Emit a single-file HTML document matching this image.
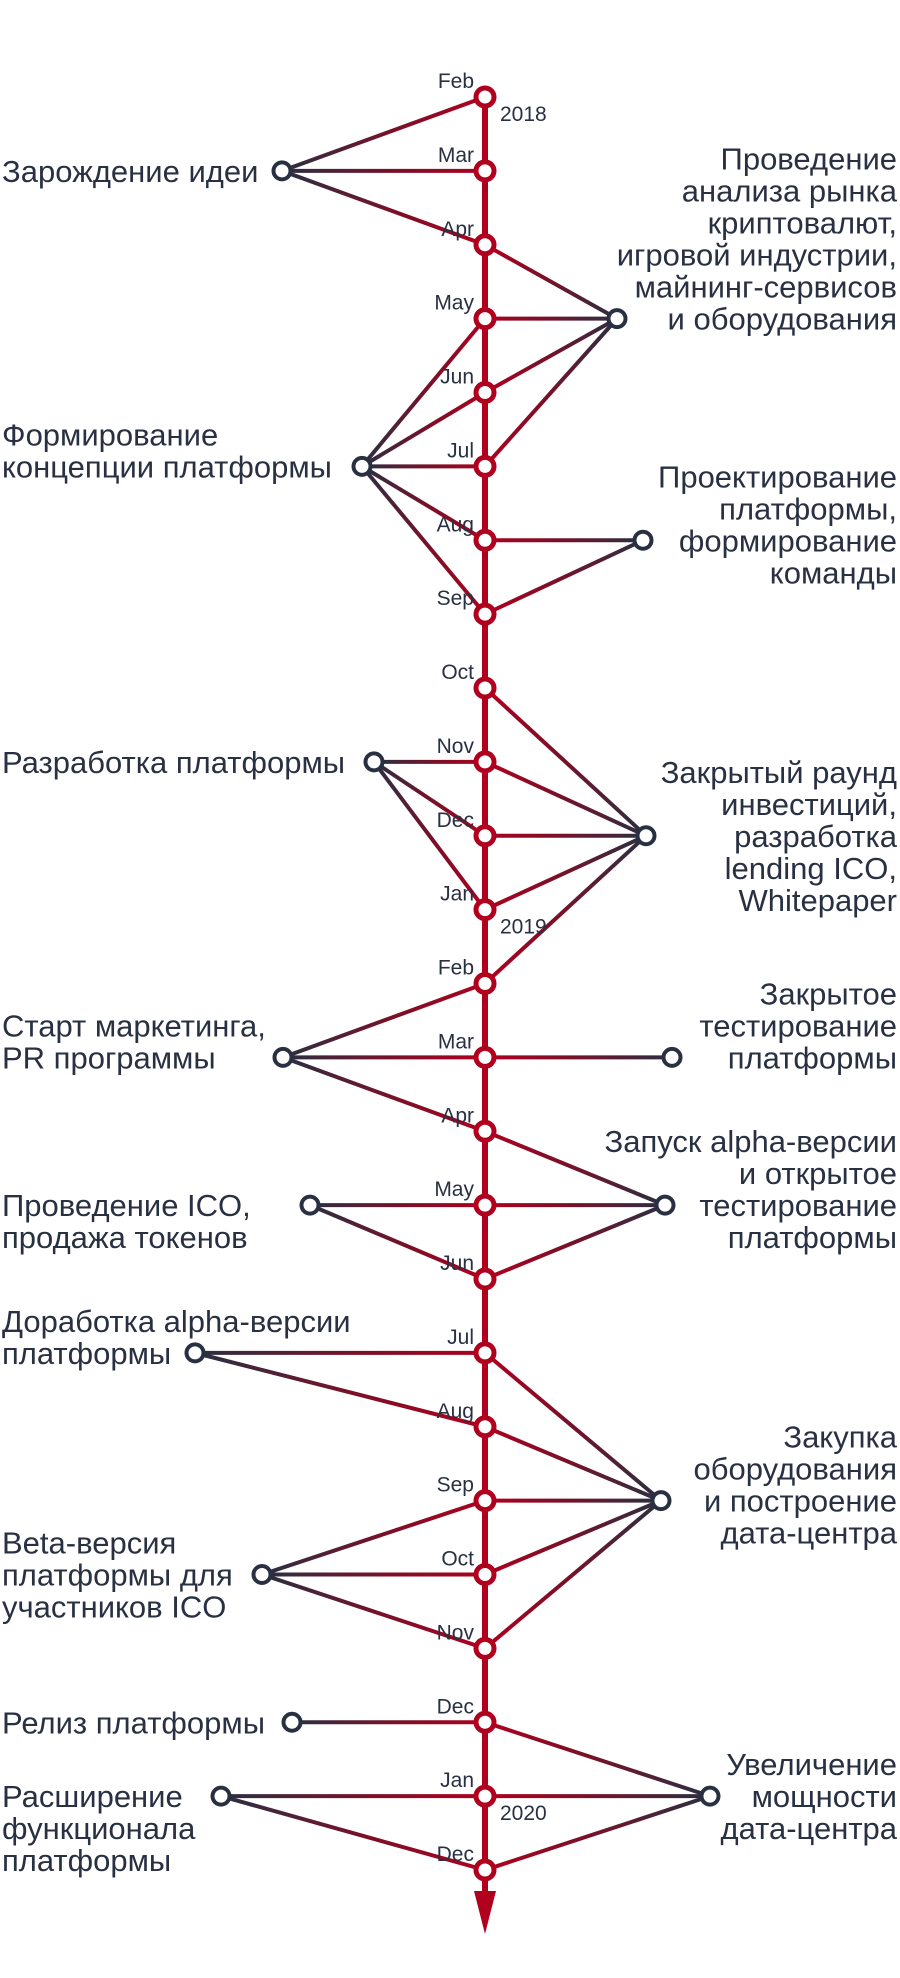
<!DOCTYPE html>
<html><head><meta charset="utf-8"><style>
html,body{margin:0;padding:0;background:#fff;}
svg{display:block;}
text{font-family:"Liberation Sans","DejaVu Sans",sans-serif;fill:#283042;}
</style></head><body>
<svg id="chart" width="900" height="1978" viewBox="0 0 900 1978" xmlns="http://www.w3.org/2000/svg"></svg>
<script>
const months = ["Feb","Mar","Apr","May","Jun","Jul","Aug","Sep","Oct","Nov","Dec","Jan","Feb","Mar","Apr","May","Jun","Jul","Aug","Sep","Oct","Nov","Dec","Jan","Dec"];
const yearMarks = [[0,"2018"],[11,"2019"],[23,"2020"]];
const eventSide = ["L","L","L","L","L","L","L","L","L","R","R","R","R","R","R","R"];
const eventX = [282,362,374,283,310,195,262,292,221,617,643,646,672,665,661,710];
const eventRow = [1,5,9,13,15,17,20,22,23,3,6,10,13,15,19,23];
const eventLinks = [[0,1,2],[3,4,5,6,7],[9,10,11],[12,13,14],[15,16],[17,18],[19,20,21],[22],[23,24],[2,3,4,5],[6,7],[8,9,10,11,12],[13],[14,15,16],[17,18,19,20,21],[22,23,24]];
const eventLines = [
 ["Зарождение идеи"],
 ["Формирование","концепции платформы"],
 ["Разработка платформы"],
 ["Старт маркетинга,","PR программы"],
 ["Проведение ICO,","продажа токенов"],
 ["Доработка alpha-версии","платформы"],
 ["Beta-версия","платформы для","участников ICO"],
 ["Релиз платформы"],
 ["Расширение","функционала","платформы"],
 ["Проведение","анализа рынка","криптовалют,","игровой индустрии,","майнинг-сервисов","и оборудования"],
 ["Проектирование","платформы,","формирование","команды"],
 ["Закрытый раунд","инвестиций,","разработка","lending ICO,","Whitepaper"],
 ["Закрытое","тестирование","платформы"],
 ["Запуск alpha-версии","и открытое","тестирование","платформы"],
 ["Закупка","оборудования","и построение","дата-центра"],
 ["Увеличение","мощности","дата-центра"]
];
const eventAnchorLine = [0,1,0,1,0,1,1,0,0,5,2,2,2,2,2,1];

const svg = document.getElementById('chart');
const NS = "http://www.w3.org/2000/svg";
const AX = 485, Y0 = 97, STEP = 73.875, LH = 32;
const RED = "#b0001e", DARK = "#283042";
function yOf(i){ return Y0 + i*STEP; }
function mk(tag, attrs){ const e=document.createElementNS(NS,tag); for(const k in attrs) e.setAttribute(k,attrs[k]); return e; }
const defs = mk('defs',{}); svg.appendChild(defs);
const gLinks = mk('g',{});   svg.appendChild(gLinks);

let gid=0;
eventLinks.forEach((links, ei)=>{
  const ex = eventX[ei], ey = yOf(eventRow[ei]);
  links.forEach(mi=>{
    const my = yOf(mi);
    const id = 'g'+(gid++);
    const gr = mk('linearGradient',{id:id,gradientUnits:'userSpaceOnUse',x1:ex,y1:ey,x2:AX,y2:my});
    gr.appendChild(mk('stop',{offset:'0','stop-color':DARK}));
    gr.appendChild(mk('stop',{offset:'0.55','stop-color':'#7a1028'}));
    gr.appendChild(mk('stop',{offset:'1','stop-color':RED}));
    defs.appendChild(gr);
    const ln = mk('line',{x1:ex,y1:ey,x2:AX,y2:my,stroke:'url(#'+id+')','stroke-width':4});
    
    
    gLinks.appendChild(ln);
  });
});

const axis = mk('line',{x1:AX,y1:Y0,x2:AX,y2:1895,stroke:RED,'stroke-width':6});


svg.appendChild(axis);
const arrow = mk('polygon',{points:(AX-11)+",1891 "+(AX+11)+",1891 "+AX+",1934",fill:RED});


svg.appendChild(arrow);

months.forEach((m,i)=>{
  const y = yOf(i);
  const c = mk('circle',{cx:AX,cy:y,r:9,fill:'#fff',stroke:RED,'stroke-width':5});
  
  
  svg.appendChild(c);
  const t = mk('text',{x:AX-11,y:y-9,'text-anchor':'end','font-size':21});
  t.textContent = m;
  
  
  svg.appendChild(t);
});
yearMarks.forEach(([i,yr])=>{
  const t = mk('text',{x:AX+15,y:yOf(i)+24,'font-size':21});
  t.textContent = yr;
  
  
  svg.appendChild(t);
});

eventX.forEach((ex,ei)=>{
  const ey = yOf(eventRow[ei]);
  const left = eventSide[ei]==="L";
  const c = mk('circle',{cx:ex,cy:ey,r:8.5,fill:'#fff',stroke:DARK,'stroke-width':4});
  
  
  svg.appendChild(c);
  const lines = eventLines[ei];
  lines.forEach((s,li)=>{
    const y = ey + (li - eventAnchorLine[ei])*LH + 11;
    const t = mk('text',{x:left?2:897,y:y,'text-anchor':left?'start':'end','font-size':31});
    t.textContent = s;
    
    
    svg.appendChild(t);
  });
});
</script>
</body></html>
